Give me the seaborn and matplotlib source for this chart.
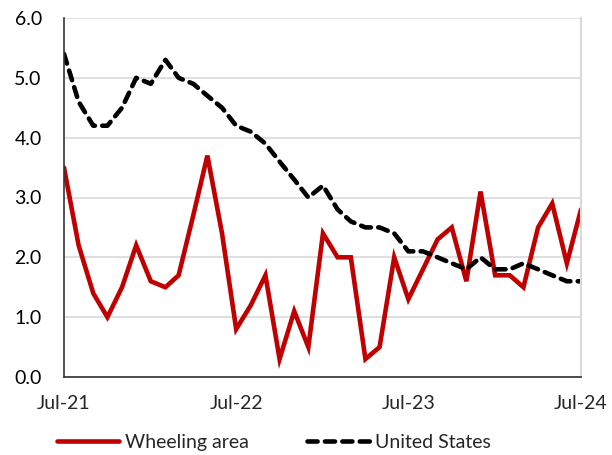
import numpy as np
import pandas as pd
import matplotlib
matplotlib.use("Agg")
import matplotlib.pyplot as plt
import matplotlib.dates as mdates
import seaborn as sns

# monthly values, Jul-21 .. Jul-24
months = pd.date_range("2021-07-01", periods=37, freq="MS")
wheeling = [3.5, 2.2, 1.4, 1.0, 1.5, 2.2, 1.6, 1.5, 1.7, 2.7, 3.7, 2.4,
            0.8, 1.2, 1.7, 0.3, 1.1, 0.5, 2.4, 2.0, 2.0, 0.3, 0.5, 2.0,
            1.3, 1.8, 2.3, 2.5, 1.6, 3.1, 1.7, 1.7, 1.5, 2.5, 2.9, 1.9, 2.8]
united_states = [5.4, 4.6, 4.2, 4.2, 4.5, 5.0, 4.9, 5.3, 5.0, 4.9, 4.7, 4.5,
                 4.2, 4.1, 3.9, 3.6, 3.3, 3.0, 3.2, 2.8, 2.6, 2.5, 2.5, 2.4,
                 2.1, 2.1, 2.0, 1.9, 1.8, 2.0, 1.8, 1.8, 1.9, 1.8, 1.7, 1.6, 1.6]
series_names = ["Wheeling area", "United States"]

df = pd.DataFrame({"month": months,
                   series_names[0]: wheeling,
                   series_names[1]: united_states})
long_df = df.melt(id_vars="month", var_name="series", value_name="rate")

sns.set_style("white")
plt.rcParams["font.family"] = ["Lato", "DejaVu Sans"]

fig = plt.figure(figsize=(6.12, 4.55), dpi=100)
ax = fig.add_axes([64 / 612, 1 - 377 / 455, 517 / 612, 359 / 455])

sns.lineplot(data=long_df, x="month", y="rate", hue="series", style="series",
             palette={"Wheeling area": "#C00000", "United States": "black"},
             dashes={"Wheeling area": "", "United States": (2.2, 1.6)},
             linewidth=3.3, ax=ax, legend=False)
for line in ax.get_lines():
    line.set_dash_capstyle("round")
    line.set_solid_joinstyle("miter")

ax.set_xlim(months[0], months[-1])
ax.set_ylim(0, 6)
ax.set_yticks(np.arange(0, 6.1, 1.0))
ax.yaxis.set_major_formatter(matplotlib.ticker.FormatStrFormatter("%.1f"))
ax.set_xticks([months[0], months[12], months[24], months[36]])
ax.xaxis.set_major_formatter(mdates.DateFormatter("%b-%y"))
ax.set_xlabel("")
ax.set_ylabel("")

ax.grid(axis="y", color="#D9D9D9", linewidth=1.2)
ax.set_axisbelow(True)
ax.spines["top"].set_visible(False)
ax.spines["right"].set_color("#D9D9D9")
ax.spines["right"].set_linewidth(1.5)
ax.spines["left"].set_color("#333333")
ax.spines["bottom"].set_color("#333333")
ax.spines["left"].set_linewidth(1.2)
ax.spines["bottom"].set_linewidth(1.2)

ax.tick_params(axis="y", length=0, pad=16, labelsize=14, colors="black")
ax.tick_params(axis="x", direction="inout", length=10, width=1.2,
               color="#333333", pad=8, labelsize=14)

handles = [plt.Line2D([], [], color="#C00000", lw=3.3),
           plt.Line2D([], [], color="black", lw=3.3, dashes=(2.2, 1.6),
                      dash_capstyle="round")]
fig.legend(handles, series_names, loc="center", bbox_to_anchor=(0.448, 0.027),
           ncol=2, frameon=False, fontsize=14, handlelength=3.2,
           handletextpad=0.3, columnspacing=3.0, borderpad=0.0)

fig.savefig("out.png", dpi=100)
